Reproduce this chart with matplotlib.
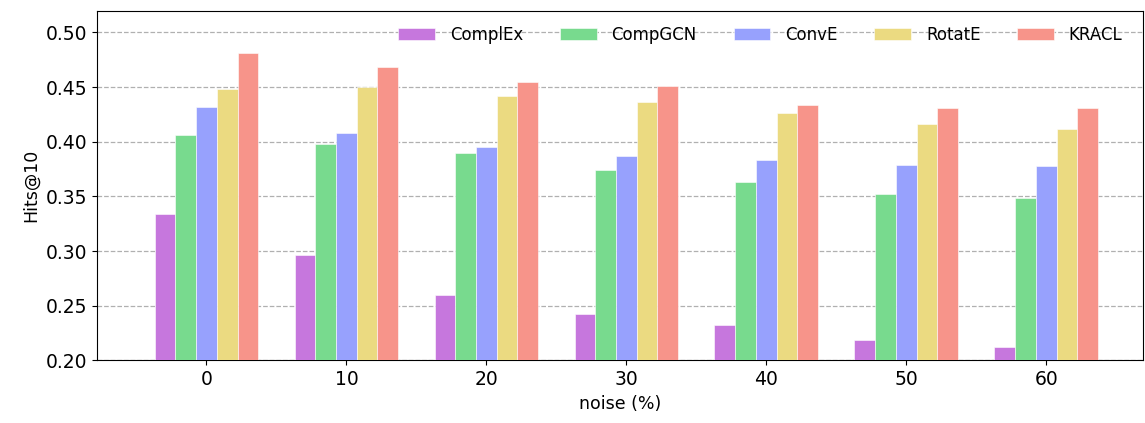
import numpy as np
import matplotlib
matplotlib.use("Agg")
import matplotlib.pyplot as plt

noise = ["0", "10", "20", "30", "40", "50", "60"]
models = ["ComplEx", "CompGCN", "ConvE", "RotatE", "KRACL"]
complex_ = [0.334, 0.296, 0.260, 0.242, 0.232, 0.219, 0.212]
compgcn = [0.406, 0.398, 0.390, 0.374, 0.363, 0.352, 0.349]
conve = [0.432, 0.408, 0.395, 0.387, 0.383, 0.379, 0.378]
rotate = [0.448, 0.450, 0.442, 0.436, 0.426, 0.416, 0.412]
kracl = [0.481, 0.468, 0.455, 0.451, 0.434, 0.431, 0.431]
series = [complex_, compgcn, conve, rotate, kracl]

COLORS = ["#c677dd", "#78da8e", "#97a1fd", "#ebda81", "#f7948a"]

fig, ax = plt.subplots(figsize=(11.45, 4.23), dpi=100)
x = np.arange(len(noise))
w = 0.148
for i, (name, vals) in enumerate(zip(models, series)):
    ax.bar(x + (i - 2) * w, vals, w, label=name, color=COLORS[i],
           edgecolor="white", linewidth=0.4, zorder=3)

ax.set_ylim(0.20, 0.52)
ax.set_xlim(-0.78, 6.69)
ax.set_yticks(np.arange(0.20, 0.501, 0.05))
ax.set_xticks(x)
ax.set_xticklabels(noise)
ax.tick_params(axis="both", labelsize=13.5)
ax.yaxis.grid(True, linestyle="--", color="#b0b0b0", linewidth=0.9, zorder=0)
ax.set_axisbelow(True)
ax.set_xlabel("noise (%)", fontsize=12.5)
ax.set_ylabel("Hits@10", fontsize=12.5)
ax.legend(loc="upper right", ncol=5, frameon=False, fontsize=12,
          bbox_to_anchor=(0.995, 1.0), handlelength=2.2, handletextpad=0.9,
          columnspacing=2.2)

fig.subplots_adjust(left=0.085, right=0.998, top=0.975, bottom=0.148)
fig.savefig("out.png", dpi=100)
